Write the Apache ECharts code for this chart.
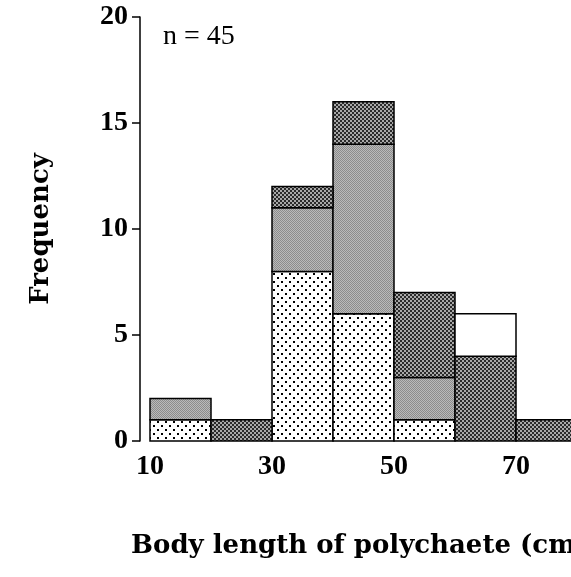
<!DOCTYPE html>
<html><head><meta charset="utf-8">
<script src="https://cdn.jsdelivr.net/npm/echarts@6/dist/echarts.min.js"></script>
<style>html,body{margin:0;padding:0;background:#fff}#c{width:571px;height:577px}</style>
</head><body><div id="c"></div>
<script>
// Bins (cm)
var binStarts = [10, 20, 30, 40, 50, 60, 70];
var binWidth = 10;
// Frequencies per stacked layer (bottom to top)
var dotted    = [1, 0, 8, 6, 1, 0, 0];
var lightGray = [1, 0, 3, 8, 2, 0, 0];
var darkGray  = [0, 1, 1, 2, 4, 4, 1];
var whiteLyr  = [0, 0, 0, 0, 0, 2, 0];
var xTickLabels = [10, 30, 50, 70];
var yTicks = [0, 5, 10, 15, 20];

function makePattern(size, draw) {
  var cv = document.createElement('canvas');
  cv.width = size; cv.height = size;
  var ctx = cv.getContext('2d');
  draw(ctx, size);
  return {image: cv, repeat: 'repeat'};
}
var patDots = makePattern(8, function (c, s) {
  c.fillStyle = '#fff'; c.fillRect(0, 0, s, s);
  c.fillStyle = '#000';
  c.fillRect(1, 1, 2, 2); c.fillRect(5, 5, 2, 2);
});
var patLight = makePattern(2, function (c, s) {
  c.fillStyle = '#bababa'; c.fillRect(0, 0, s, s);
  c.fillStyle = '#8c8c8c'; c.fillRect(0, 0, 1, 1); c.fillRect(1, 1, 1, 1);
});
var patDark = makePattern(4, function (c, s) {
  c.fillStyle = '#a8a8a8'; c.fillRect(0, 0, s, s);
  c.fillStyle = '#2a2a2a'; c.fillRect(0, 0, 2, 2); c.fillRect(2, 2, 2, 2);
});
var patWhite = '#ffffff';

var layers = [dotted, lightGray, darkGray, whiteLyr];
var fills = [patDots, patLight, patDark, patWhite];
var base = binStarts.map(function () { return 0; });
var series = layers.map(function (vals, li) {
  var data = [];
  vals.forEach(function (v, i) {
    if (v > 0) data.push([binStarts[i], binStarts[i] + binWidth, base[i], base[i] + v]);
    base[i] += v;
  });
  var fill = fills[li];
  return {
    type: 'custom',
    clip: false,
    data: data,
    encode: {x: [0, 1], y: [2, 3]},
    renderItem: function (params, api) {
      var p0 = api.coord([api.value(0), api.value(3)]);
      var p1 = api.coord([api.value(1), api.value(2)]);
      return {
        type: 'rect',
        shape: {x: p0[0], y: p0[1], width: p1[0] - p0[0], height: p1[1] - p0[1]},
        style: {fill: fill, stroke: '#000', lineWidth: 1.5}
      };
    }
  };
});

var chart = echarts.init(document.getElementById('c'));
chart.setOption({
  animation: false,
  grid: {left: 150, top: 17, bottom: 136, width: 427, outerBoundsMode: 'none', containLabel: false},
  xAxis: {
    type: 'value', min: 10, max: 80, interval: 10,
    axisLine: {show: false}, axisTick: {show: false}, splitLine: {show: false},
    axisLabel: {
      margin: 12, color: '#000', fontFamily: 'Liberation Serif', fontWeight: 'bold', fontSize: 28,
      formatter: function (v) { return xTickLabels.indexOf(v) >= 0 ? String(v) : ''; }
    },
    name: 'Body length of polychaete (cm)',
    nameLocation: 'middle', nameGap: 92,
    nameTextStyle: {color: '#000', fontFamily: 'DejaVu Serif', fontWeight: 'bold', fontSize: 26, padding: [0, 8, 0, 0]}
  },
  yAxis: {
    type: 'value', min: 0, max: 20, interval: 5, offset: 10,
    axisLine: {show: true, lineStyle: {color: '#000', width: 1.5}},
    axisTick: {show: true, length: 8, lineStyle: {color: '#000', width: 1.5}},
    splitLine: {show: false},
    axisLabel: {margin: 12, color: '#000', fontFamily: 'Liberation Serif', fontWeight: 'bold', fontSize: 28,
      formatter: function (v) { return yTicks.indexOf(v) >= 0 ? String(v) : ''; }},
    name: 'Frequency', nameLocation: 'middle', nameGap: 86, nameRotate: 90,
    nameTextStyle: {color: '#000', fontFamily: 'DejaVu Serif', fontWeight: 'bold', fontSize: 26}
  },
  graphic: [{
    type: 'text', left: 163, top: 23,
    style: {text: 'n = 45', fill: '#000', font: '28px "Liberation Serif"'}
  }],
  series: series
});
</script></body></html>
